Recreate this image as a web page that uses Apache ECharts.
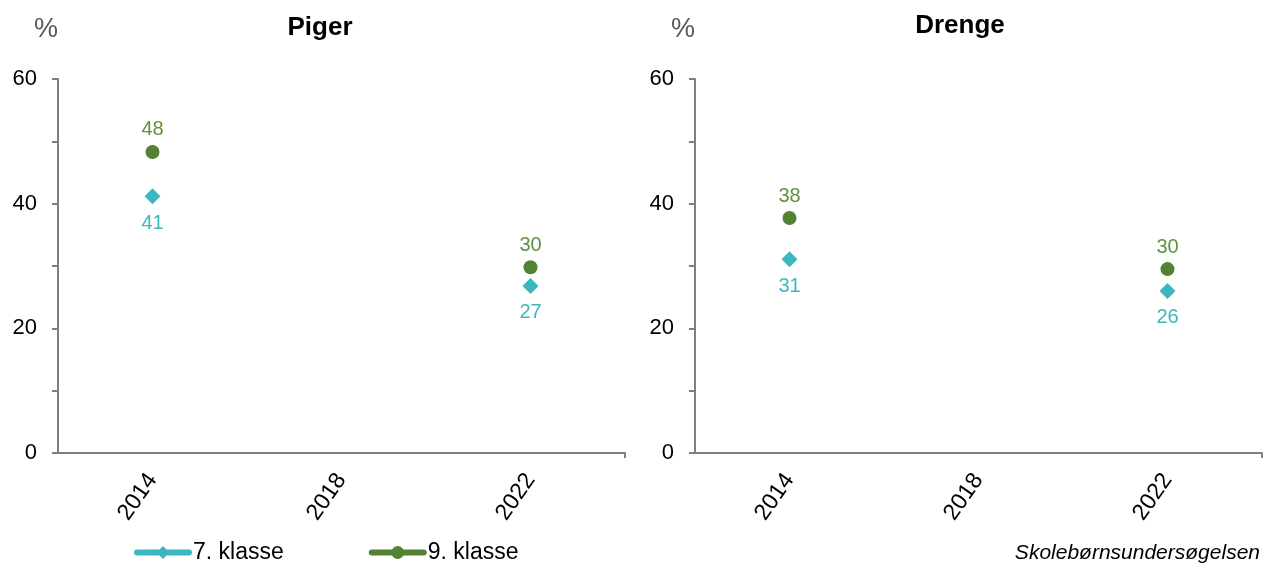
<!DOCTYPE html>
<html>
<head>
<meta charset="utf-8">
<script src="https://cdn.jsdelivr.net/npm/echarts@6/dist/echarts.min.js"></script>
<style>html,body{margin:0;padding:0;background:#fff;}#c{width:1271px;height:563px;}</style>
</head>
<body>
<div id="c"></div>
<script>
const years = ['2014', '2018', '2022'];
const panels = ['Piger', 'Drenge'];
const seriesNames = ['7. klasse', '9. klasse'];
const piger7 = [41.2, null, 26.8];
const piger9 = [48.3, null, 29.8];
const drenge7 = [31.1, null, 26.0];
const drenge9 = [37.7, null, 29.5];
const yTicks = [0, 20, 40, 60];
const source = 'Skolebørnsundersøgelsen';

const col7 = '#3cb7be';
const col9 = '#548235';
const lab9 = '#5e9140';
const axisCol = '#7f7f7f';
const font = 'Liberation Sans, Arial, sans-serif';

const chart = echarts.init(document.getElementById('c'));
const grids = [
  {left: 58, top: 79, width: 567, height: 374},
  {left: 695, top: 79, width: 567, height: 374}
];
const xAxes = [], yAxes = [], series = [];
const dataSets = [[piger7, piger9], [drenge7, drenge9]];
grids.forEach((g, i) => {
  xAxes.push({
    type: 'category', data: years, gridIndex: i, boundaryGap: true,
    axisLine: {lineStyle: {color: axisCol, width: 2}},
    axisTick: {alignWithLabel: true, length: 5, lineStyle: {color: axisCol, width: 2}},
    axisLabel: {rotate: 55, color: '#000', fontSize: 23, fontFamily: font, margin: 23}
  });
  xAxes.push({
    type: 'value', gridIndex: i, min: 0, max: 3, position: 'bottom',
    axisLine: {show: false}, splitLine: {show: false},
    axisLabel: {show: false},
    axisTick: {show: true, customValues: [3], length: 5, lineStyle: {color: axisCol, width: 2}}
  });
  yAxes.push({
    type: 'value', gridIndex: i, min: 0, max: 60, interval: 10,
    name: '%', nameLocation: 'end', nameGap: 36,
    nameTextStyle: {color: '#595959', fontSize: 27, fontFamily: font, align: 'right', padding: [0, 0, 0, 0]},
    axisLine: {show: true, lineStyle: {color: axisCol, width: 2}},
    axisTick: {show: true, length: 6, lineStyle: {color: axisCol, width: 2}},
    splitLine: {show: false},
    axisLabel: {color: '#000', fontSize: 22, fontFamily: font, margin: 21,
      formatter: v => yTicks.includes(v) ? String(v) : ''}
  });
  const [d7, d9] = dataSets[i];
  series.push({
    name: seriesNames[0], type: 'line', xAxisIndex: i * 2, yAxisIndex: i,
    data: d7, connectNulls: false, symbol: 'diamond', symbolSize: 16,
    itemStyle: {color: col7}, lineStyle: {color: col7, width: 6},
    label: {show: true, position: 'bottom', distance: 9, color: col7, fontSize: 20, fontFamily: font,
      formatter: p => Math.round(p.value)}
  });
  series.push({
    name: seriesNames[1], type: 'line', xAxisIndex: i * 2, yAxisIndex: i,
    data: d9, connectNulls: false, symbol: 'circle', symbolSize: 14,
    itemStyle: {color: col9}, lineStyle: {color: col9, width: 6},
    label: {show: true, position: 'top', distance: 5, color: lab9, fontSize: 20, fontFamily: font,
      formatter: p => Math.round(p.value)}
  });
});

chart.setOption({
  animation: false,
  backgroundColor: '#fff',
  title: [
    {text: panels[0], left: 315, top: 10, textAlign: 'center', textStyle: {fontSize: 26, fontWeight: 'bold', color: '#000', fontFamily: font}},
    {text: panels[1], left: 955, top: 8, textAlign: 'center', textStyle: {fontSize: 26, fontWeight: 'bold', color: '#000', fontFamily: font}},
    {text: source, right: 6, top: 538, textStyle: {fontSize: 21, fontStyle: 'italic', fontWeight: 'normal', color: '#000', fontFamily: font}}
  ],
  legend: {
    data: seriesNames, left: 134, top: 541, padding: 0, itemWidth: 52, itemHeight: 16, itemGap: 85,
    lineStyle: {width: 6, cap: 'round'},
    textStyle: {fontSize: 23, color: '#000', fontFamily: font, padding: [0, 0, 0, -1]}
  },
  grid: grids,
  xAxis: xAxes,
  yAxis: yAxes,
  series: series
});
</script>
</body>
</html>
